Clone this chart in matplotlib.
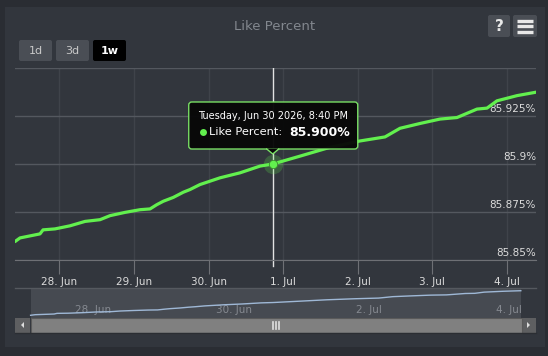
import numpy as np
import matplotlib.pyplot as plt
from matplotlib.patches import FancyBboxPatch, Rectangle, Polygon

# days since 28 Jun 00:00 (local)
t_days = [-0.594, -0.527, -0.259, -0.218, -0.058, 0.143, 0.345, 0.546, 0.680, 0.881,
          1.082, 1.216, 1.306, 1.394, 1.528, 1.662, 1.752, 1.886, 2.154, 2.422,
          2.690, 2.861, 3.227, 3.629, 4.031, 4.366, 4.567, 4.835, 5.103, 5.331,
          5.599, 5.733, 5.867, 6.135, 6.390]
like_pct = [85.8596, 85.8615, 85.8636, 85.8657, 85.8662, 85.8678, 85.8701, 85.8710, 85.8731, 85.8748,
            85.8762, 85.8766, 85.8788, 85.8806, 85.8826, 85.8853, 85.8867, 85.8893, 85.8928, 85.8954,
            85.8989, 85.9000, 85.9041, 85.9087, 85.9120, 85.9141, 85.9186, 85.9211, 85.9234, 85.9242,
            85.9286, 85.9291, 85.9329, 85.9356, 85.9374]

x_labels = ['28. Jun', '29. Jun', '30. Jun', '1. Jul', '2. Jul', '3. Jul', '4. Jul']
nav_labels = ['28. Jun', '30. Jun', '2. Jul', '4. Jul']
y_ticks = [85.85, 85.875, 85.9, 85.925, 85.95]
y_labels = ['85.85%', '85.875%', '85.9%', '85.925%', '']
buttons = ['1d', '3d', '1w']
sel = 21  # hovered point
tip_date = 'Tuesday, Jun 30 2026, 8:40 PM'

W, H = 548, 356
GREEN = '#62f04e'
PANEL = '#32363d'

fig = plt.figure(figsize=(W / 100, H / 100), dpi=100, facecolor='#2a2d33')

def box(l, t, r, b):
    return [l / W, 1 - b / H, (r - l) / W, (b - t) / H]

# background layer (pixel coords, y down)
bg = fig.add_axes([0, 0, 1, 1], zorder=-5)
bg.set_xlim(0, W)
bg.set_ylim(H, 0)
bg.axis('off')
bg.add_patch(Rectangle((5, 7), 540, 340, fc=PANEL, ec='none'))
bg.text(275, 27, 'Like Percent', color='#82878e', fontsize=9.5, ha='center', va='center')

for i, b in enumerate(buttons):
    x0 = 19 + i * 37
    active = b == '1w'
    bg.add_patch(FancyBboxPatch((x0, 40), 33, 21, boxstyle='round,pad=0,rounding_size=2',
                                fc='#000000' if active else '#4a4e55', ec='none'))
    bg.text(x0 + 16.5, 50.5, b, color='white' if active else '#c9c9c9', fontsize=8,
            fontweight='bold' if active else 'normal', ha='center', va='center')

# help / menu icons
bg.add_patch(FancyBboxPatch((488, 15), 22, 22, boxstyle='round,pad=0,rounding_size=2', fc='#4a4e55', ec='none'))
bg.text(499, 26.5, '?', color='#e8e8e8', fontsize=11, fontweight='bold', ha='center', va='center')
bg.add_patch(FancyBboxPatch((513, 15), 24, 22, boxstyle='round,pad=0,rounding_size=2', fc='#4a4e55', ec='none'))
for yy in (20.5, 26, 31.5):
    bg.plot([517, 533], [yy, yy], color='#e8e8e8', lw=2.4, solid_capstyle='butt')

# scrollbar
bg.add_patch(Rectangle((15, 318), 15, 14.5, fc='#5e5f61', ec='none'))
bg.add_patch(Rectangle((522, 318), 14, 14.5, fc='#5e5f61', ec='none'))
bg.add_patch(Rectangle((30.5, 318), 491, 14.5, fc='#808080', ec='#5a5a5a', lw=0.8))
bg.plot([15, 536], [333, 333], color='#2b2e33', lw=1)
bg.add_patch(Polygon([[24, 322], [24, 328], [21, 325]], fc='#dddddd', ec='none'))
bg.add_patch(Polygon([[527, 322], [527, 328], [530, 325]], fc='#dddddd', ec='none'))
for xx in (273, 276, 279):
    bg.plot([xx, xx], [321.5, 329], color='#e0e0e0', lw=1.2)

# main chart
ax = fig.add_axes(box(15, 68, 536, 260))
ax.set_facecolor('none')
ax.set_xlim(t_days[0], t_days[-1])
ax.set_ylim(85.85, 85.95)
for s in ['top', 'left', 'right']:
    ax.spines[s].set_visible(False)
ax.spines['bottom'].set_color('#6e7075')
ax.set_xticks(range(len(x_labels)))
ax.set_xticklabels(x_labels, color='#dcdcdc', fontsize=7.5)
ax.tick_params(axis='x', length=10, color='#6e7075', pad=2)
ax.set_yticks(y_ticks)
ax.tick_params(axis='y', length=0, labelleft=False)
ax.grid(axis='x', color='#3f434a', lw=1)
ax.grid(axis='y', color='#54585f', lw=1)
ax.set_axisbelow(True)
for v, lab in zip(y_ticks, y_labels):
    ax.annotate(lab, (1, v), xycoords=ax.get_yaxis_transform(), xytext=(0, 2),
                textcoords='offset pixels', ha='right', va='bottom', color='#dcdcdc', fontsize=7.5)

ax.plot(t_days, like_pct, color=GREEN, lw=2.3, solid_capstyle='round', zorder=3)
ax.axvline(t_days[sel], color='#e2e2e2', lw=1, zorder=2)
ax.plot([t_days[sel]] * 2, [0, -0.03], transform=ax.get_xaxis_transform(), color='#e2e2e2',
        lw=1, clip_on=False)
ax.plot(t_days[sel], like_pct[sel], 'o', ms=14, color=GREEN, alpha=0.22, mec='none', zorder=4)
ax.plot(t_days[sel], like_pct[sel], 'o', ms=6, color=GREEN, mec='#3a8a2e', mew=0.6, zorder=5)

# navigator
nav = fig.add_axes(box(15, 288, 536, 318))
nav.set_facecolor(PANEL)
nav.set_xlim(-0.816, 6.606)
nav.set_ylim(85.851, 85.946)
for s in nav.spines.values():
    s.set_visible(False)
nav.plot([-0.816, 6.606], [85.946, 85.946], color='#55595f', lw=1, clip_on=False)
nav.axvspan(t_days[0], t_days[-1], color='#464a51', lw=0)
nav.set_xticks(range(0, 7, 2))
nav.tick_params(length=0, labelbottom=False, labelleft=False)
nav.set_yticks([])
nav.grid(axis='x', color='#5c6067', lw=1)
nav.set_axisbelow(True)
for d, lab in zip(range(0, 7, 2), nav_labels):
    nav.annotate(lab, (d, 0.28), xycoords=nav.get_xaxis_transform(), xytext=(3, 0),
                 textcoords='offset pixels', ha='left', va='center', color='#858990', fontsize=7.5)
nav.plot(t_days, like_pct, color='#9fb8d6', lw=1, zorder=3)
for tx in (t_days[0], t_days[-1]):
    hx = nav.transData.transform((tx, 0))[0]
    hx = bg.transData.inverted().transform((hx, 0))[0]
    bg.add_patch(Rectangle((hx - 4, 295.5), 8, 15, fc='#4f535a', ec='#b0b0b0', lw=1, zorder=20))
    bg.plot([hx - 1, hx - 1], [299, 307], color='#b0b0b0', lw=0.8, zorder=21)
    bg.plot([hx + 1, hx + 1], [299, 307], color='#b0b0b0', lw=0.8, zorder=21)
bg.set_zorder(-5)

# tooltip on top layer, anchored at hovered point
top = fig.add_axes([0, 0, 1, 1], zorder=10)
top.set_xlim(0, W)
top.set_ylim(H, 0)
top.axis('off')
disp = ax.transData.transform((t_days[sel], like_pct[sel]))
px, py = top.transData.inverted().transform(disp)
top.add_patch(FancyBboxPatch((px - 84, py - 62), 169, 47, boxstyle='round,pad=0,rounding_size=3',
                             fc='#080808', ec='#7be466', lw=1, alpha=0.97))
top.add_patch(Polygon([[px - 6, py - 15.5], [px + 6, py - 15.5], [px, py - 10]], fc='#080808', ec='none'))
top.plot([px - 6, px, px + 6], [py - 15, py - 10, py - 15], color='#7be466', lw=1)
top.text(px - 75, py - 48, tip_date, color='white', fontsize=7, va='center', ha='left')
top.plot(px - 70, py - 32, 'o', ms=5, color=GREEN, mec='none')
top.text(px - 64, py - 32, 'Like Percent: ', color='white', fontsize=8.2, va='center', ha='left')
top.text(px + 17, py - 32, f'{like_pct[sel]:.3f}%', color='white', fontsize=9,
         fontweight='bold', va='center', ha='left')

fig.savefig('out.png', dpi=100, facecolor=fig.get_facecolor())
